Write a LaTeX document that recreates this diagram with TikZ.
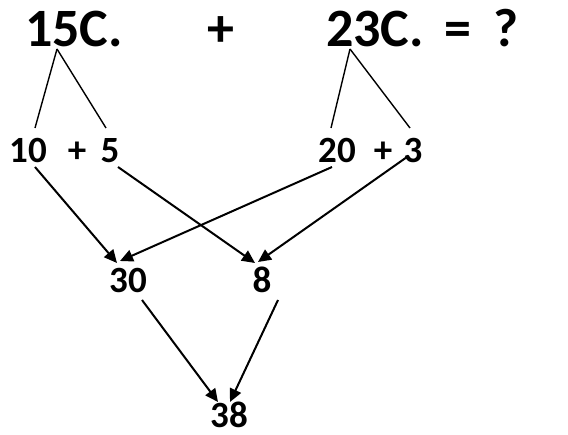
\documentclass[tikz,border=0pt]{standalone}
\usepackage{fontspec}
\setmainfont{Carlito}
\usetikzlibrary{arrows.meta}
\tikzset{
    big/.style  = {font=\fontsize{54}{60}\selectfont\bfseries, inner sep=0pt, anchor=base},
    num/.style  = {font=\fontsize{37}{42}\selectfont\bfseries, inner sep=0pt, anchor=base},
    split/.style = {line width=1.4pt},
    arrow/.style = {-{Triangle[length=13pt,width=12pt]}, line width=2pt}
}

\begin{document}
\begin{tikzpicture}[x=1pt,y=-1pt]

    \useasboundingbox (0,0) rectangle (568,435);

    % ---------- top line ----------
    \node[big] (fifteen)     at (74,47)  {15C.};
    \node[big] (plusTop)     at (221,47) {+};
    \node[big] (twentythree) at (375,47) {23C.};
    \node[big] (equals)      at (458,47) {=};
    \node[big] (question)    at (506,47) {?};

    % ---------- split into tens and ones ----------
    \node[num] (ten)    at (28,163)  {10};
    \node[num] (plusA)  at (77,163)  {+};
    \node[num] (five)   at (110,163) {5};
    \node[num] (twenty) at (337,163) {20};
    \node[num] (plusB)  at (383,163) {+};
    \node[num] (three)  at (413,163) {3};

    \coordinate (apexA) at ([shift={(-17,2)}]fifteen.base);
    \coordinate (apexB) at ([shift={(-25,2)}]twentythree.base);

    \draw[split] (apexA) -- ([shift={(7,-35)}]ten.base);
    \draw[split] (apexA) -- ([shift={(-4,-35)}]five.base);
    \draw[split] (apexB) -- ([shift={(-6,-35)}]twenty.base);
    \draw[split] (apexB) -- ([shift={(-3,-35)}]three.base);

    % ---------- partial sums ----------
    \node[num] (thirty) at (128,293) {30};
    \node[num] (eight)  at (262,293) {8};

    \draw[arrow] ([shift={(7,4)}]ten.base)     -- ([shift={(-11,-30)}]thirty.base);
    \draw[arrow] ([shift={(-5,4)}]twenty.base) -- ([shift={(-8,-32)}]thirty.base);
    \draw[arrow] ([shift={(8,4)}]five.base)    -- ([shift={(-7,-30)}]eight.base);
    \draw[arrow] ([shift={(-6,-6)}]three.base) -- ([shift={(-4,-31)}]eight.base);

    % ---------- result ----------
    \node[num] (result) at (229,428) {38};

    \draw[arrow] ([shift={(14,7)}]thirty.base) -- ([shift={(-11,-26)}]result.base);
    \draw[arrow] ([shift={(16,7)}]eight.base)  -- ([shift={(1,-26)}]result.base);

\end{tikzpicture}
\end{document}
